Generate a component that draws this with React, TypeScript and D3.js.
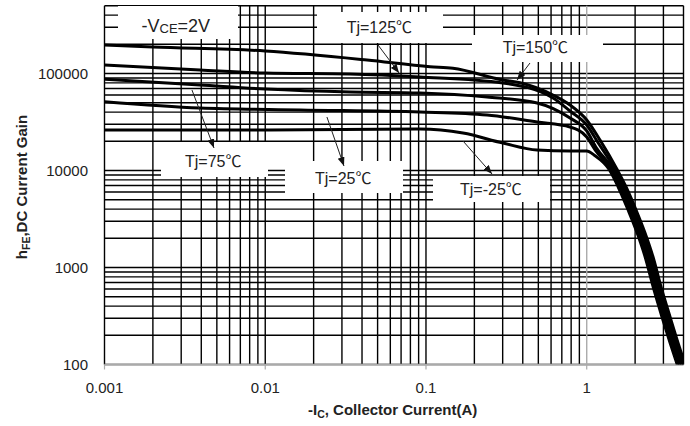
import React from 'react';
import * as d3 from 'd3';

const W = 690;
const H = 426;

const xDomain = [0.001, 4];
const yDomain = [100, 500000];

const xTickValues = [0.001, 0.01, 0.1, 1];
const xTickLabels = ['0.001', '0.01', '0.1', '1'];
const yTickValues = [100, 1000, 10000, 100000];
const yTickLabels = ['100', '1000', '10000', '100000'];

const seriesNames = ['Tj=150℃', 'Tj=125℃', 'Tj=75℃', 'Tj=25℃', 'Tj=-25℃'];

const ic150 = [0.001, 0.002, 0.01, 0.043, 0.106, 0.147, 0.301, 0.385, 0.617, 0.787, 1.0, 1.21, 1.545, 1.757, 2.027, 2.306, 2.586, 2.9, 3.3, 3.7, 4.15];
const hfe150 = [197000, 187700, 170600, 137800, 117500, 113200, 85700, 80400, 60000, 47350, 33180, 20600, 10240, 6760, 3915, 2268, 1283, 630, 309, 167, 94];

const ic125 = [0.001, 0.00393, 0.01, 0.0337, 0.0918, 0.301, 0.617, 0.787, 1.0, 1.18, 1.5, 1.71, 1.97, 2.24, 2.51, 2.82, 3.21, 3.6, 4.03];
const hfe125 = [122400, 108700, 101200, 98800, 92000, 79800, 55900, 41050, 29450, 19200, 10240, 6760, 3915, 2268, 1283, 630, 309, 167, 94];

const ic75 = [0.001, 0.00393, 0.01, 0.0337, 0.0918, 0.24, 0.491, 0.787, 1.0, 1.15, 1.46, 1.66, 1.91, 2.18, 2.44, 2.74, 3.12, 3.49, 3.92];
const hfe75 = [87100, 76100, 69200, 64500, 63000, 57300, 49700, 34780, 25550, 17060, 10240, 6760, 3915, 2268, 1283, 630, 309, 167, 94];

const ic25 = [0.001, 0.00393, 0.01645, 0.0918, 0.24, 0.491, 0.787, 1.0, 1.13, 1.42, 1.61, 1.86, 2.12, 2.37, 2.66, 3.03, 3.4, 3.81];
const hfe25 = [51200, 44100, 42100, 40100, 37350, 31600, 28100, 22150, 16260, 10240, 6760, 3915, 2268, 1283, 630, 309, 167, 94];

const icM25 = [0.001, 0.01, 0.0918, 0.17, 0.301, 0.491, 0.787, 1.0, 1.12, 1.38, 1.57, 1.81, 2.06, 2.31, 2.59, 2.94, 3.3, 3.7];
const hfeM25 = [26170, 26170, 26800, 24360, 19200, 16260, 15890, 15890, 14300, 10240, 6760, 3915, 2268, 1283, 630, 309, 167, 94];

const seriesIc = [ic150, ic125, ic75, ic25, icM25];
const seriesHfe = [hfe150, hfe125, hfe75, hfe25, hfeM25];

// annotation arrows (data coordinates), order as seriesNames
const arrowFromIc = [0.4437, 0.0503, 0.0035, 0.0242, 0.17];
const arrowFromHfe = [128300, 196800, 67600, 35600, 20140];
const arrowToIc = [0.3685, 0.068, 0.0048, 0.0309, 0.2576];
const arrowToHfe = [85700, 101200, 17060, 11120, 9200];

// layout (pixels)
const M = { left: 104.5, right: 683.5, top: 5.7, bottom: 364.5 };
const labelPos = [
  { x: 502.7, y: 53.3 },
  { x: 346.7, y: 33.3 },
  { x: 185, y: 167 },
  { x: 315, y: 184 },
  { x: 460, y: 195 },
];
const labelBoxes = [
  { x: 472, y: 35, w: 131, h: 27 },
  { x: 317, y: 12, w: 126, h: 31 },
  { x: 161, y: 142, w: 107, h: 35 },
  { x: 285, y: 161, w: 118, h: 32 },
  { x: 433, y: 176, w: 117, h: 26 },
];
const vceBox = { x: 118, y: 6, w: 120, h: 33 };

const FONT = "'Liberation Sans', Arial, 'Noto Sans CJK SC', sans-serif";
const TXT = '#222';

export default function App() {
  const x = d3.scaleLog().domain(xDomain).range([M.left, M.right]);
  const y = d3.scaleLog().domain(yDomain).range([M.bottom, M.top]);

  const xGrid = x.ticks();
  const yGrid = y.ticks();

  const line = d3
    .line<[number, number]>()
    .x((d) => x(d[0]))
    .y((d) => y(d[1]))
    .curve(d3.curveMonotoneX);

  return (
    <svg
      width={W}
      height={H}
      style={{ position: 'absolute', left: 0, top: 0, background: '#fff' }}
      fontFamily={FONT}
    >
      <defs>
        <clipPath id="plot">
          <rect x={M.left} y={M.top} width={M.right - M.left} height={M.bottom - M.top} />
        </clipPath>
        <marker
          id="arrow"
          markerUnits="userSpaceOnUse"
          markerWidth={10}
          markerHeight={8}
          refX={9}
          refY={3.5}
          orient="auto"
        >
          <path d="M0,0 L9,3.5 L0,7 Z" fill="#111" />
        </marker>
      </defs>
      <rect x={0} y={0} width={W} height={H} fill="#fff" />

      {/* grid */}
      {yGrid.map((v, i) => (
        <line
          key={'h' + i}
          x1={M.left}
          x2={M.right}
          y1={y(v)}
          y2={y(v)}
          stroke="#000"
          strokeWidth={1.4}
        />
      ))}
      {xGrid.map((v, i) => (
        <line
          key={'v' + i}
          x1={x(v)}
          x2={x(v)}
          y1={M.top}
          y2={M.bottom}
          stroke={Math.abs(v - 1) < 1e-9 ? '#aaa' : '#000'}
          strokeWidth={1.4}
        />
      ))}

      {/* label boxes mask grid */}
      {[vceBox, ...labelBoxes].map((b, i) => (
        <rect key={'b' + i} x={b.x} y={b.y} width={b.w} height={b.h} fill="#fff" />
      ))}

      {/* x axis */}
      <line x1={M.left} x2={M.right} y1={M.bottom} y2={M.bottom} stroke="#aaa" strokeWidth={1.4} />
      {xTickValues.map((v, i) => (
        <line key={'t' + i} x1={x(v)} x2={x(v)} y1={M.bottom} y2={M.bottom + 5} stroke="#aaa" strokeWidth={1.2} />
      ))}
      {xTickValues.map((v, i) => (
        <text key={'xl' + i} x={x(v)} y={392.5} textAnchor="middle" fontSize={15} fill={TXT}>
          {xTickLabels[i]}
        </text>
      ))}
      {yTickValues.map((v, i) => (
        <text key={'yl' + i} x={88} y={y(v) + 5.3} textAnchor="end" fontSize={15} fill={TXT}>
          {yTickLabels[i]}
        </text>
      ))}

      {/* curves */}
      <g clipPath="url(#plot)">
        {seriesIc.map((ics, si) => {
          const pts = ics.map((c, j) => [c, seriesHfe[si][j]] as [number, number]);
          return (
            <path
              key={'c' + si}
              d={line(pts) || ''}
              fill="none"
              stroke="#000"
              strokeWidth={3}
              strokeLinejoin="round"
              strokeLinecap="round"
            />
          );
        })}
      </g>

      {/* arrows */}
      {arrowFromIc.map((c, i) => (
        <line
          key={'a' + i}
          x1={x(c)}
          y1={y(arrowFromHfe[i])}
          x2={x(arrowToIc[i])}
          y2={y(arrowToHfe[i])}
          stroke="#222"
          strokeWidth={1}
          markerEnd="url(#arrow)"
        />
      ))}

      {/* labels */}
      {seriesNames.map((n, i) => (
        <text key={'n' + i} x={labelPos[i].x} y={labelPos[i].y} fontSize={16} fill={TXT}>
          {n}
        </text>
      ))}
      <text x={141.5} y={31.7} fontSize={18} fill={TXT}>
        -V
        <tspan fontSize={13} dy={1.6}>CE</tspan>
        <tspan dy={-1.6}>=2V</tspan>
      </text>

      {/* axis titles */}
      <text x={308} y={415} fontSize={15} fontWeight="bold" fill={TXT}>
        -I
        <tspan fontSize={10.5} dy={3}>C</tspan>
        <tspan dy={-3}>, Collector Current(A)</tspan>
      </text>
      <text
        transform="translate(27,187) rotate(-90)"
        textAnchor="middle"
        fontSize={15}
        fontWeight="bold"
        fill={TXT}
      >
        h
        <tspan fontSize={10.5} dy={3}>FE</tspan>
        <tspan dy={-3}>,DC  Current Gain</tspan>
      </text>
    </svg>
  );
}
